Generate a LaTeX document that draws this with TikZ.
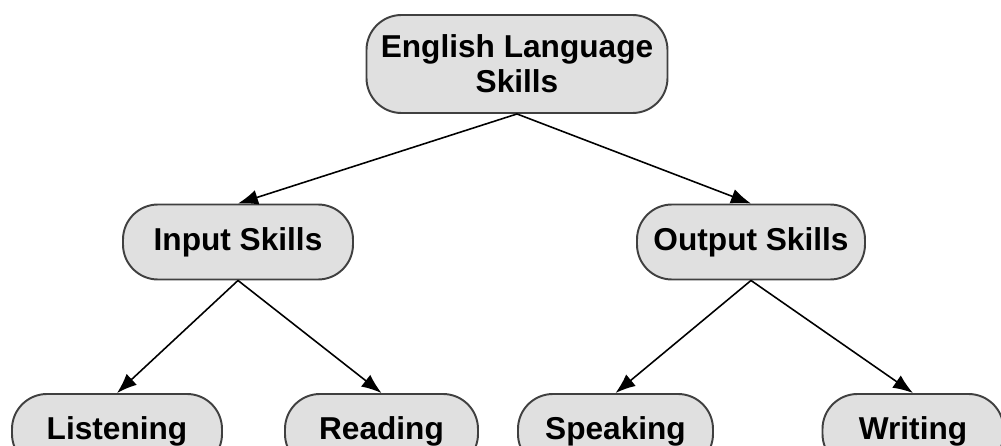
\documentclass[tikz,border=0pt]{standalone}
\usepackage{fontspec}
\setmainfont{Liberation Sans}
\usetikzlibrary{arrows.meta}
\begin{document}
\begin{tikzpicture}
    \tikzstyle{skill}=[draw=black!75, line width=1.1pt, fill=black!12, rounded corners=0.7cm,
        minimum height=1.5cm, align=center, inner sep=0pt,
        font=\bfseries\fontsize{18}{20}\selectfont]
    \tikzstyle{link}=[-{Latex[length=4mm,width=3mm]}, line width=0.9pt]
    \useasboundingbox (0,0) rectangle (20.02,-8.92);

    \node[skill, minimum width=6.02cm, minimum height=1.96cm] (els) at (10.34,-1.28) {English Language\\Skills};
    \node[skill, minimum width=4.6cm] (ins) at (4.76,-4.84) {Input Skills};
    \node[skill, minimum width=4.56cm] (outs) at (15.02,-4.84) {Output Skills};
    \node[skill, minimum width=4.2cm] (lis) at (2.34,-8.63) {Listening};
    \node[skill, minimum width=3.86cm] (rea) at (7.63,-8.63) {Reading};
    \node[skill, minimum width=3.9cm] (spe) at (12.31,-8.63) {Speaking};
    \node[skill, minimum width=3.62cm] (wri) at (18.26,-8.63) {Writing};

    \draw[link] (els.south) -- (ins.north);
    \draw[link] (els.south) -- (outs.north);
    \draw[link] (ins.south) -- (lis.north);
    \draw[link] (ins.south) -- (rea.north);
    \draw[link] (outs.south) -- (spe.north);
    \draw[link] (outs.south) -- (wri.north);
\end{tikzpicture}
\end{document}
